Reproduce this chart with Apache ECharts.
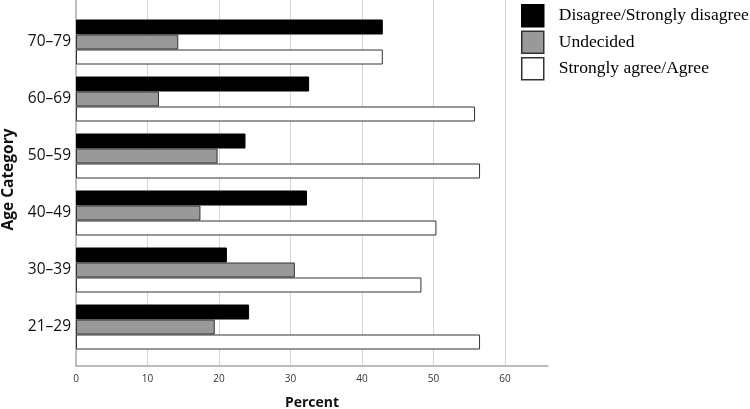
<!DOCTYPE html>
<html>
<head>
<meta charset="utf-8">
<script src="https://cdn.jsdelivr.net/npm/echarts@6/dist/echarts.min.js"></script>
<style>
  html, body { margin: 0; padding: 0; background: #fff; }
  #chart { width: 750px; height: 409px; }
</style>
</head>
<body>
<div id="chart"></div>
<script>
// age groups, top to bottom
const categories = ["70–79", "60–69", "50–59", "40–49", "30–39", "21–29"]
const disagree = [42.9, 32.6, 23.7, 32.3, 21.1, 24.2]
const undecided = [14.3, 11.6, 19.8, 17.4, 30.6, 19.4]
const agree = [42.9, 55.8, 56.5, 50.4, 48.3, 56.5]
const seriesNames = ["Disagree/Strongly disagree", "Undecided", "Strongly agree/Agree"]

const axisGrey = "#a8a8a8"
const gridGrey = "#d6d6d6"
const labelFont = "Open Sans"

let myChart = echarts.init(document.getElementById("chart"), null, { renderer: "canvas" })

const barSeries = (name, data, color, border) => ({
  name: name,
  type: "bar",
  xAxisIndex: 0,
  yAxisIndex: 0,
  data: data,
  barWidth: 15,
  barGap: "0%",
  itemStyle: { color: color, borderColor: border, borderWidth: 1 },
  emphasis: { disabled: true }
})

myChart.setOption({
  animation: false,
  legend: {
    orient: "vertical",
    left: 521,
    top: 4,
    padding: 0,
    itemWidth: 22,
    itemHeight: 22,
    itemGap: 3,
    icon: "rect",
    data: seriesNames,
    itemStyle: { borderWidth: 1.5 },
    textStyle: { fontFamily: "Liberation Serif", fontSize: 17.5, lineHeight: 22, color: "#000", padding: [0, 0, 0, 10] }
  },
  grid: [
    // bars
    { left: 76, right: 202, top: 13.5, height: 342, outerBoundsMode: "none", containLabel: false },
    // axis frame + gridlines
    { left: 76, right: 202, top: 0, height: 366, outerBoundsMode: "none", containLabel: false }
  ],
  xAxis: [
    { gridIndex: 0, type: "value", min: 0, max: 66, show: false },
    {
      gridIndex: 1,
      type: "value",
      min: 0,
      max: 66,
      interval: 10,
      name: "Percent",
      nameLocation: "middle",
      nameGap: 30,
      nameTextStyle: { fontFamily: labelFont, fontSize: 14, fontWeight: "bold", color: "#111" },
      axisLine: { show: true, lineStyle: { color: axisGrey, width: 1.5 } },
      axisTick: { show: false },
      axisLabel: { showMaxLabel: false, fontFamily: labelFont, fontSize: 10, color: "#333", margin: 8 },
      splitLine: { show: true, showMinLine: false, showMaxLine: false, lineStyle: { color: gridGrey, width: 1 } }
    }
  ],
  yAxis: [
    {
      gridIndex: 0,
      type: "category",
      inverse: true,
      data: categories,
      name: "Age Category",
      nameLocation: "middle",
      nameRotate: 90,
      nameGap: 58,
      nameTextStyle: { fontFamily: labelFont, fontSize: 15.5, fontWeight: "bold", color: "#111", padding: [0, 0, 0, 10] },
      axisLine: { show: false },
      axisTick: { show: false },
      axisLabel: { fontFamily: labelFont, fontSize: 15.5, color: "#111", margin: 5 }
    },
    {
      gridIndex: 1,
      type: "value",
      min: 0,
      max: 1,
      axisLine: { show: true, lineStyle: { color: axisGrey, width: 1.5 } },
      axisTick: { show: false },
      axisLabel: { show: false },
      splitLine: { show: false }
    }
  ],
  series: [
    barSeries(seriesNames[0], disagree, "#000", "#000"),
    barSeries(seriesNames[1], undecided, "#999", "#333"),
    barSeries(seriesNames[2], agree, "#fff", "#333")
  ]
})
</script>
</body>
</html>
